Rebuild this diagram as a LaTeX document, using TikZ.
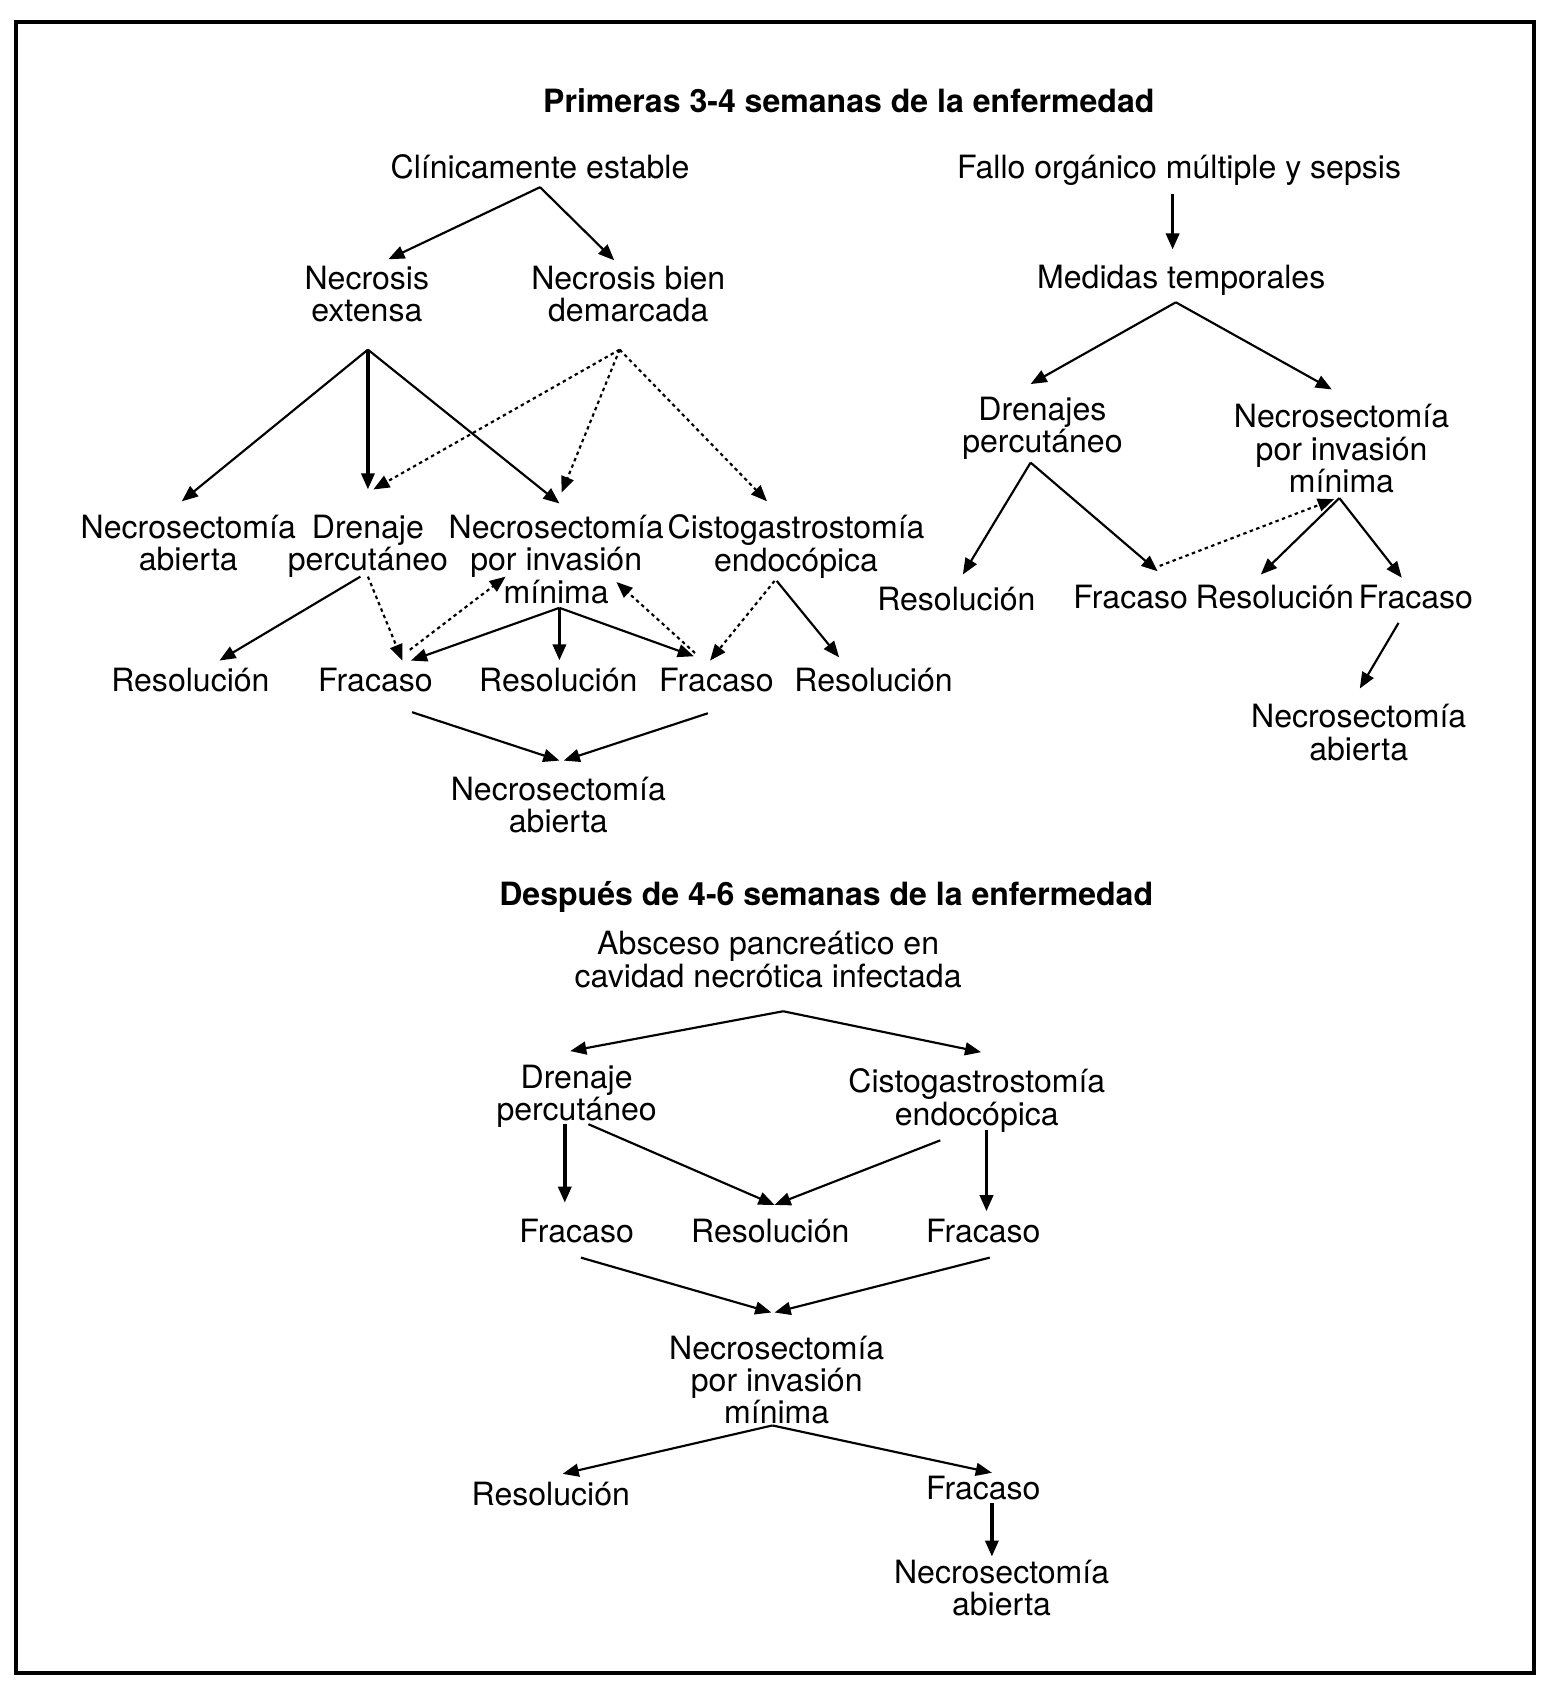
\documentclass[tikz,border=0pt]{standalone}
\usepackage{fontspec}
\setmainfont{TeX Gyre Heros}
\usetikzlibrary{arrows.meta}
\begin{document}
\begin{tikzpicture}[x=0.5pt,y=-0.5pt,
 lbl/.style={align=center,inner sep=0pt,font=\fontsize{14.9}{15}\selectfont},
 ttl/.style={inner sep=0pt,font=\fontsize{14.9}{15}\selectfont\bfseries},
 arr/.style={-{Triangle[length=7.5pt,width=6pt]},line width=1pt},
 varr/.style={arr,line width=1.7pt},
 darr/.style={arr,dash pattern=on 1.6pt off 1.6pt}]
\useasboundingbox (0,0) rectangle (1445,1570);
\draw[line width=1.85pt] (15,20.5) rectangle (1425.5,1555.5);
% nodes
\node[ttl] (t1) at (789,94) {Primeras 3-4 semanas de la enfermedad};
\node[lbl] (ce) at (502,155) {Clínicamente estable};
\node[lbl] (fo) at (1096,158) {Fallo orgánico múltiple y sepsis};
\node[lbl] (nx) at (341,273) {Necrosis\\extensa};
\node[lbl] (nb) at (584,273) {Necrosis bien\\demarcada};
\node[lbl] (mt) at (1098,261) {Medidas temporales};
\node[lbl] (dr) at (969,398) {Drenajes\\percutáneo};
\node[lbl] (nr) at (1247,417) {Necrosectomía\\por invasión\\mínima};
\node[lbl] (na1) at (175,505) {Necrosectomía\\abierta};
\node[lbl] (dp1) at (342,508) {Drenaje\\percutáneo};
\node[lbl] (nm1) at (517,520) {Necrosectomía\\por invasión\\mínima};
\node[lbl] (cg1) at (740,508) {Cistogastrostomía\\endocópica};
\node[lbl] (r1) at (177,632) {Resolución};
\node[lbl] (f1) at (349,632) {Fracaso};
\node[lbl] (r2) at (519,632) {Resolución};
\node[lbl] (f2) at (666,632) {Fracaso};
\node[lbl] (r3) at (812,632) {Resolución};
\node[lbl] (na2) at (519,748) {Necrosectomía\\abierta};
\node[lbl] (rr1) at (889,557) {Resolución};
\node[lbl] (rf1) at (1051,555) {Fracaso};
\node[lbl] (rr2) at (1185,555) {Resolución};
\node[lbl] (rf2) at (1316,555) {Fracaso};
\node[lbl] (rna) at (1263,681) {Necrosectomía\\abierta};
\node[ttl] (t2) at (768,834) {Después de 4-6 semanas de la enfermedad};
\node[lbl] (ab) at (714,892) {Absceso pancreático en\\cavidad necrótica infectada};
\node[lbl] (dp2) at (536,1019) {Drenaje\\percutáneo};
\node[lbl] (cg2) at (908,1023) {Cistogastrostomía\\endocópica};
\node[lbl] (bf1) at (536,1144) {Fracaso};
\node[lbl] (br1) at (716,1144) {Resolución};
\node[lbl] (bf2) at (914,1144) {Fracaso};
\node[lbl] (bnm) at (722,1283) {Necrosectomía\\por invasión\\mínima};
\node[lbl] (br2) at (512,1389) {Resolución};
\node[lbl] (bf3) at (914,1383) {Fracaso};
\node[lbl] (bna) at (931,1476) {Necrosectomía\\abierta};
% connector end points
\coordinate (ce-o) at (502,174); \coordinate (nx-i) at (361,241); \coordinate (nb-i) at (571,242);
\coordinate (fo-o) at (1090,180); \coordinate (mt-i) at (1090,232);
\coordinate (mt-o) at (1093,281); \coordinate (dr-i) at (958,357); \coordinate (nr-i) at (1238,362);
\coordinate (nx-o) at (342,325); \coordinate (na1-i) at (169,466); \coordinate (dp1-i) at (342,455); \coordinate (nm1-i) at (520,468);
\coordinate (nb-o) at (576,325); \coordinate (dp1-j) at (347,455); \coordinate (nm1-j) at (522,458); \coordinate (cg1-i) at (713,466);
\coordinate (dp1-o) at (335,536); \coordinate (r1-i) at (204,614); \coordinate (dp1-p) at (342,536); \coordinate (f1-i) at (374,614);
\coordinate (nm1-o) at (520,565); \coordinate (f1-j) at (382,614); \coordinate (r2-i) at (520,614); \coordinate (f2-i) at (645,610);
\coordinate (f1-o) at (381,604); \coordinate (nm1-k) at (470,536);
\coordinate (f2-o) at (646,607); \coordinate (nm1-l) at (573,541);
\coordinate (cg1-o) at (720,540); \coordinate (f2-j) at (660,614); \coordinate (cg1-p) at (722,540); \coordinate (r3-i) at (780,611);
\coordinate (f1-p) at (383,662); \coordinate (na2-i) at (520,707); \coordinate (f2-p) at (658,663); \coordinate (na2-j) at (524,707);
\coordinate (dr-o) at (958,430); \coordinate (rr1-i) at (895,534); \coordinate (rf1-i) at (1076,531);
\coordinate (rf1-o) at (1078,526); \coordinate (nr-k) at (1240,464);
\coordinate (nr-o) at (1245,463); \coordinate (rr2-i) at (1172,534); \coordinate (rf2-i) at (1303,537);
\coordinate (rf2-o) at (1300,579); \coordinate (rna-i) at (1264,640);
\coordinate (ab-o) at (728,940); \coordinate (dp2-i) at (530,977); \coordinate (cg2-i) at (912,978);
\coordinate (dp2-o) at (525,1045); \coordinate (bf1-i) at (525,1118); \coordinate (dp2-p) at (547,1045); \coordinate (br1-i) at (720,1120);
\coordinate (cg2-o) at (874,1060); \coordinate (cg2-p) at (917,1050); \coordinate (bf2-i) at (917,1126);
\coordinate (bf1-o) at (540,1169); \coordinate (bnm-i) at (717,1220); \coordinate (bf2-o) at (920,1169); \coordinate (bnm-j) at (720,1220);
\coordinate (bnm-o) at (718,1325); \coordinate (br2-i) at (523,1370); \coordinate (bf3-i) at (922,1369);
\coordinate (bf3-o) at (922,1397); \coordinate (bna-i) at (922,1447);
% connectors
\draw[arr] (ce-o) -- (nx-i);
\draw[arr] (ce-o) -- (nb-i);
\draw[varr] (fo-o) -- (mt-i);
\draw[arr] (mt-o) -- (dr-i);
\draw[arr] (mt-o) -- (nr-i);
\draw[arr] (nx-o) -- (na1-i);
\draw[varr] (nx-o) -- (dp1-i);
\draw[arr] (nx-o) -- (nm1-i);
\draw[darr] (nb-o) -- (dp1-j);
\draw[darr] (nb-o) -- (nm1-j);
\draw[darr] (nb-o) -- (cg1-i);
\draw[arr] (dp1-o) -- (r1-i);
\draw[darr] (dp1-p) -- (f1-i);
\draw[arr] (nm1-o) -- (f1-j);
\draw[varr] (nm1-o) -- (r2-i);
\draw[arr] (nm1-o) -- (f2-i);
\draw[darr] (f1-o) -- (nm1-k);
\draw[darr] (f2-o) -- (nm1-l);
\draw[darr] (cg1-o) -- (f2-j);
\draw[arr] (cg1-p) -- (r3-i);
\draw[arr] (f1-p) -- (na2-i);
\draw[arr] (f2-p) -- (na2-j);
\draw[arr] (dr-o) -- (rr1-i);
\draw[arr] (dr-o) -- (rf1-i);
\draw[darr] (rf1-o) -- (nr-k);
\draw[arr] (nr-o) -- (rr2-i);
\draw[arr] (nr-o) -- (rf2-i);
\draw[arr] (rf2-o) -- (rna-i);
\draw[arr] (ab-o) -- (dp2-i);
\draw[arr] (ab-o) -- (cg2-i);
\draw[varr] (dp2-o) -- (bf1-i);
\draw[arr] (dp2-p) -- (br1-i);
\draw[arr] (cg2-o) -- (br1-i);
\draw[varr] (cg2-p) -- (bf2-i);
\draw[arr] (bf1-o) -- (bnm-i);
\draw[arr] (bf2-o) -- (bnm-j);
\draw[arr] (bnm-o) -- (br2-i);
\draw[arr] (bnm-o) -- (bf3-i);
\draw[varr] (bf3-o) -- (bna-i);
\end{tikzpicture}
\end{document}
